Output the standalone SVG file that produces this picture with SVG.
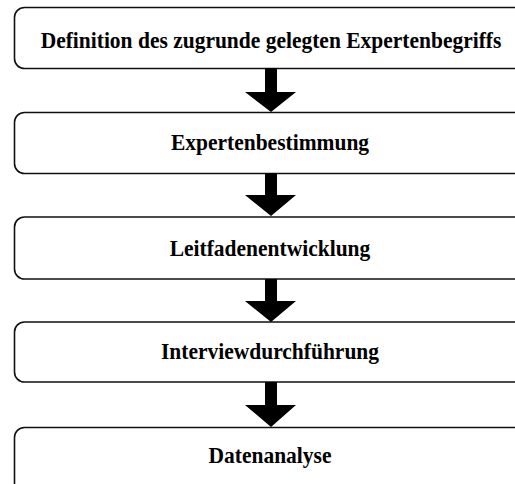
<svg xmlns="http://www.w3.org/2000/svg" width="515" height="484" viewBox="0 0 515 484">
  <style>
    .box { fill: #ffffff; stroke: #111111; stroke-width: 1.6; }
    .label { font-family: "Liberation Serif", "Times New Roman", serif; font-weight: bold; font-size: 21.5px; fill: #000000; text-anchor: middle; }
    .arrow { fill: #000000; }
  </style>
  <rect x="0" y="0" width="515" height="484" fill="#ffffff"/>

  <!-- process steps; the boxes run off the right edge, labels slightly tall -->
  <g id="step-definition">
    <rect class="box" x="14.5" y="7.5" width="520" height="61" rx="10"/>
    <text class="label" transform="translate(271,48) scale(1,1.07)">Definition des zugrunde gelegten Expertenbegriffs</text>
  </g>
  <g id="step-experten">
    <rect class="box" x="14.5" y="112.5" width="520" height="61" rx="10"/>
    <text class="label" transform="translate(270,150) scale(1,1.07)">Expertenbestimmung</text>
  </g>
  <g id="step-leitfaden">
    <rect class="box" x="14.5" y="217" width="520" height="62" rx="10"/>
    <text class="label" transform="translate(270,256) scale(1,1.07)">Leitfadenentwicklung</text>
  </g>
  <g id="step-interview">
    <rect class="box" x="14.5" y="322" width="520" height="60" rx="10"/>
    <text class="label" transform="translate(270,359) scale(1,1.07)">Interviewdurchführung</text>
  </g>
  <g id="step-analyse">
    <rect class="box" x="14.5" y="427.5" width="520" height="70" rx="10"/>
    <text class="label" transform="translate(270,463) scale(1,1.07)">Datenanalyse</text>
  </g>

  <!-- block arrows between steps -->
  <g id="connectors">
    <path class="arrow" d="M265,68 H277 V92 H296 L271,112 L245,92 H265 Z"/>
    <path class="arrow" d="M265,173 H277 V195 H296 L271,216 L245,195 H265 Z"/>
    <path class="arrow" d="M265,279 H277 V301 H296 L271,322 L245,301 H265 Z"/>
    <path class="arrow" d="M265,382 H277 V405 H296 L271,427 L245,405 H265 Z"/>
  </g>
</svg>
